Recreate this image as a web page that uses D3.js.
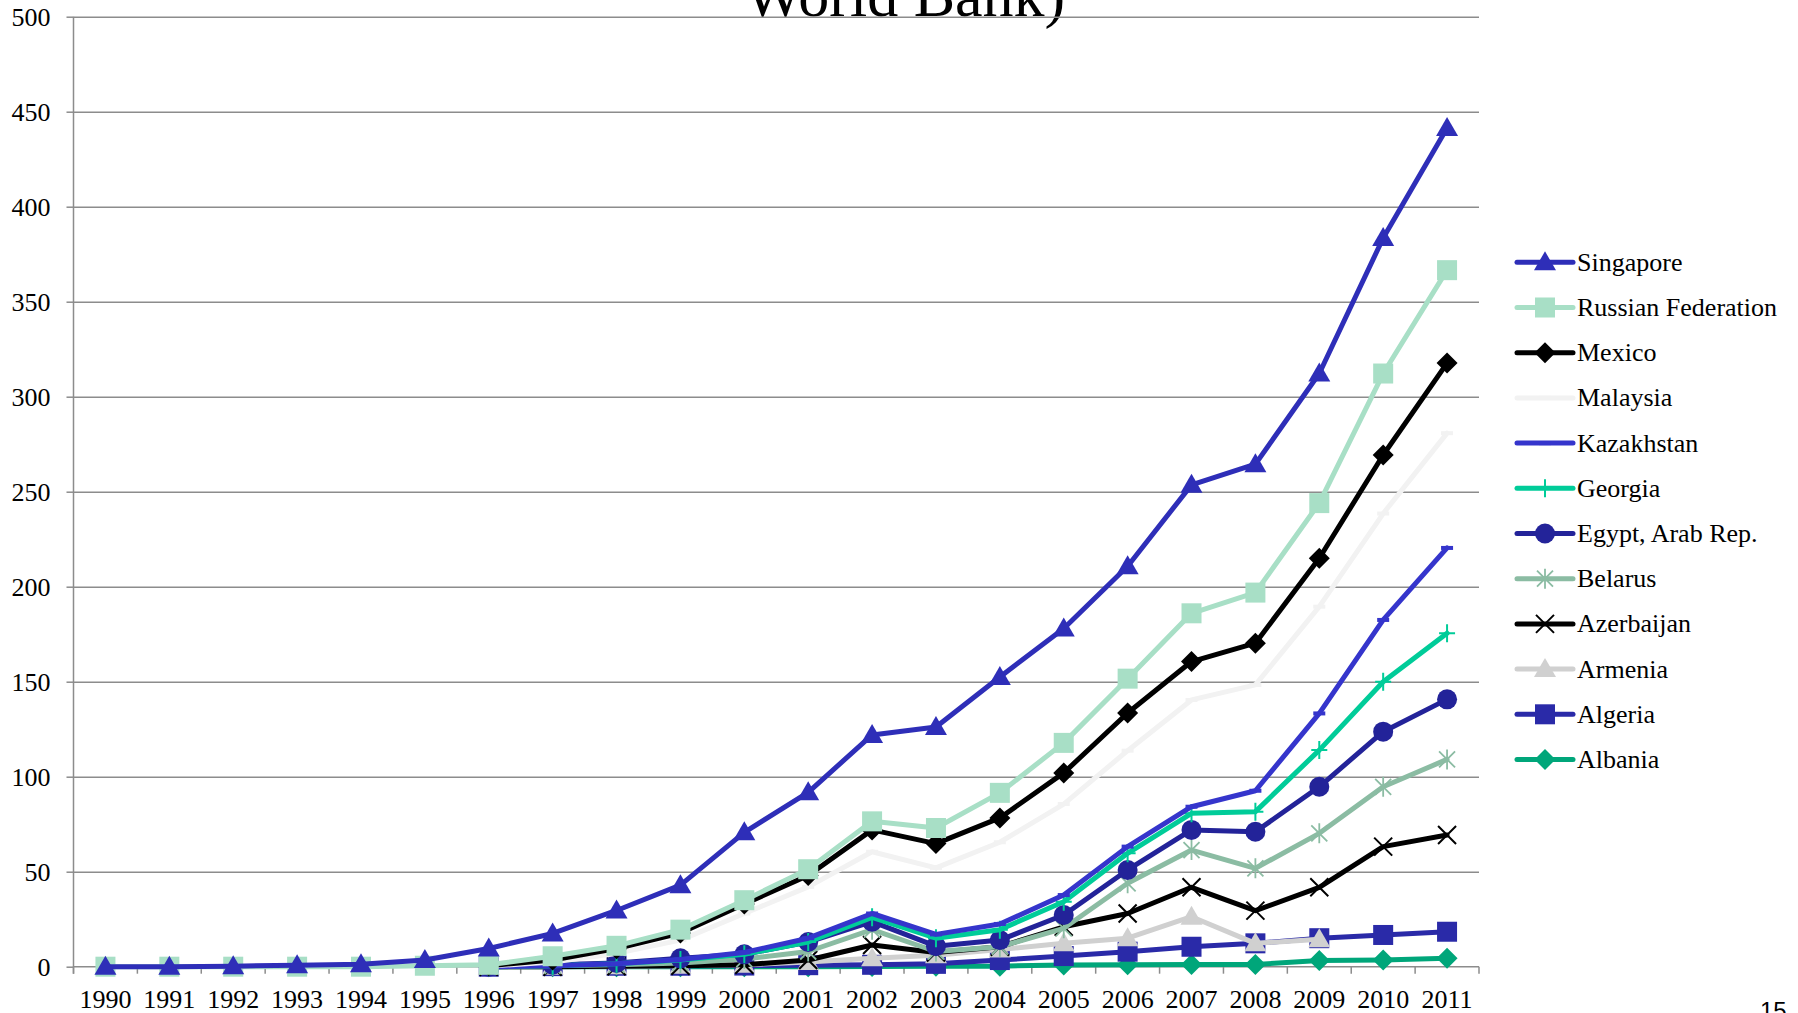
<!DOCTYPE html>
<html>
<head>
<meta charset="utf-8">
<script src="https://cdn.jsdelivr.net/npm/d3@7"></script>
<style>
  html, body { margin: 0; padding: 0; background: #fff; }
  svg { display: block; }
</style>
</head>
<body>
<svg id="chart" width="1798" height="1013"></svg>
<script>
// ---------- DATA ----------
const years = ["1990","1991","1992","1993","1994","1995","1996","1997","1998","1999","2000","2001","2002","2003","2004","2005","2006","2007","2008","2009","2010","2011"];
const yTicks = [0, 50, 100, 150, 200, 250, 300, 350, 400, 450, 500];
const titleText = "World Bank)";
const pageNumber = "15";

const singapore = [0, 0, 0.3, 0.8, 1.3, 3.5, 9.6, 17.5, 29.6, 42.9, 70.7, 91.8, 122, 126.2, 152.5, 178, 210.8, 253.6, 264.5, 312.2, 383.5, 441.4];
const russia    = [0, 0, 0, 0, 0, 0.5, 1, 5.5, 11, 19.5, 35, 51.3, 76.5, 73, 91.5, 117.8, 151.6, 186, 196.9, 244, 312.2, 366.6];
const mexico    = [null, null, null, null, null, null, 0.5, 3.5, 9.5, 17.7, 33, 48, 72, 64.8, 78.3, 102, 133.5, 160.6, 170.3, 215, 269.3, 317.7];
const malaysia  = [null, null, null, null, null, null, 0.3, 2.5, 7, 14, 28, 42, 60.5, 52, 65.5, 85.6, 113.7, 140.4, 148.3, 189.5, 238.5, 280.8];
const kazakhstan= [null, null, null, null, null, null, 0, 0.5, 1.5, 3.8, 7.5, 15, 28, 17, 22.5, 37.7, 63.2, 84.2, 92.6, 133.3, 182.5, 220.4];
const georgia   = [null, null, null, null, null, null, 0, 0.5, 1.5, 3.5, 6.5, 13, 26, 15, 19.5, 34.2, 59.7, 80.7, 81.6, 114, 150, 175.5];
const egypt     = [null, null, null, null, null, null, 0, 1, 2, 4.4, 6.5, 13, 23.7, 10.8, 14, 27.2, 50.9, 72, 71, 94.7, 123.7, 140.7];
const belarus   = [null, null, null, null, null, null, 0, 0.5, 1, 2, 4, 8, 19.5, 8, 10.5, 20.2, 43.9, 61.4, 51.8, 70.2, 94.7, 109.1];
const azerbaijan= [null, null, null, null, null, null, 0, 0, 0.2, 0.5, 1, 3.5, 11.4, 7.5, 10.5, 21, 28, 41.8, 29.5, 41.8, 63.2, 69.3];
const armenia   = [null, null, null, null, null, null, 0, 0, 0.2, 0.5, 1, 2.5, 4.5, 6, 9, 12.3, 15, 26.3, 12.3, 14.4, null, null];
const algeria   = [null, null, null, null, null, null, 0, 0.3, 0.5, 0.5, 0.6, 0.8, 1, 1.5, 3.5, 5.6, 7.9, 10.5, 12.3, 15, 16.7, 18.4];
const albania   = [null, null, null, null, null, null, 0, 0, 0, 0, 0, 0, 0.1, 0.2, 0.3, 0.9, 1, 1.1, 1.2, 3.2, 3.5, 4.4];

// legend order (top to bottom)
const seriesNames = ["Singapore","Russian Federation","Mexico","Malaysia","Kazakhstan","Georgia","Egypt, Arab Rep.","Belarus","Azerbaijan","Armenia","Algeria","Albania"];
const seriesValues = [singapore, russia, mexico, malaysia, kazakhstan, georgia, egypt, belarus, azerbaijan, armenia, algeria, albania];

// ---------- STYLES ----------
const styles = {
  "Singapore":          {color: "#2E2EB8", marker: "triangle"},
  "Russian Federation": {color: "#A8DFC6", marker: "square"},
  "Mexico":             {color: "#000000", marker: "diamond"},
  "Malaysia":           {color: "#F2F2F2", marker: "dash"},
  "Kazakhstan":         {color: "#3535CC", marker: "dash"},
  "Georgia":            {color: "#00CC99", marker: "plus"},
  "Egypt, Arab Rep.":   {color: "#232399", marker: "circle"},
  "Belarus":            {color: "#8BBCA3", marker: "star"},
  "Azerbaijan":         {color: "#000000", marker: "x"},
  "Armenia":            {color: "#D0D0D0", marker: "triangle"},
  "Algeria":            {color: "#2A2AA8", marker: "square"},
  "Albania":            {color: "#00A67A", marker: "diamond"}
};

const plotLeft = 73.5, plotRight = 1479, plotTop = 16.7, plotBottom = 966.7;
const serif = "'Liberation Serif', 'Times New Roman', serif";
const lineW = 5;

const svg = d3.select("#chart");

const x = d3.scalePoint().domain(years).range([plotLeft, plotRight]).padding(0.5);
const step = x.step();
const y = d3.scaleLinear().domain([0, 500]).range([plotBottom, plotTop]);

// Title (mostly cut off at top)
svg.append("text")
  .attr("x", 905).attr("y", 16)
  .attr("text-anchor", "middle")
  .attr("font-family", serif)
  .attr("font-size", 62)
  .attr("fill", "#000")
  .text(titleText);

// Gridlines
const grid = svg.append("g").attr("transform", `translate(${plotLeft},0)`)
  .call(d3.axisLeft(y).tickValues(yTicks.filter(v => v > 0)).tickSize(-(plotRight - plotLeft)).tickFormat(""));
grid.select(".domain").remove();
grid.selectAll("line").attr("stroke", "#8C8C8C").attr("stroke-width", 1.5);

// Y axis
const yAxis = svg.append("g").attr("transform", `translate(${plotLeft},0)`)
  .call(d3.axisLeft(y).tickValues(yTicks).tickSize(7).tickPadding(16).tickSizeOuter(0));
yAxis.select(".domain").attr("stroke", "#8C8C8C").attr("stroke-width", 1.5)
  .attr("d", `M0,${plotTop}V${plotBottom + 7}`);
yAxis.selectAll(".tick line").attr("stroke", "#8C8C8C").attr("stroke-width", 1.5);
yAxis.selectAll(".tick text").attr("font-family", serif).attr("font-size", 26).attr("fill", "#000");

// X axis baseline
svg.append("line")
  .attr("x1", plotLeft).attr("x2", plotRight)
  .attr("y1", y(0)).attr("y2", y(0))
  .attr("stroke", "#8C8C8C").attr("stroke-width", 1.5);
// X ticks at category boundaries
const boundaries = years.map(d => x(d) - step / 2).concat([x(years[years.length - 1]) + step / 2]);
svg.append("g").selectAll("line").data(boundaries).join("line")
  .attr("x1", d => d).attr("x2", d => d)
  .attr("y1", y(0)).attr("y2", y(0) + 7)
  .attr("stroke", "#8C8C8C").attr("stroke-width", 1.5);
// X labels
svg.append("g").selectAll("text").data(years).join("text")
  .attr("x", d => x(d)).attr("y", 1008)
  .attr("text-anchor", "middle")
  .attr("font-family", serif).attr("font-size", 26).attr("fill", "#000")
  .text(d => d);

// Marker drawing
function drawMarker(g, type, color) {
  switch (type) {
    case "triangle":
      g.append("path").attr("d", "M0,-11L11,8L-11,8Z").attr("fill", color);
      break;
    case "square":
      g.append("rect").attr("x", -10).attr("y", -10).attr("width", 20).attr("height", 20).attr("fill", color);
      break;
    case "diamond":
      g.append("path").attr("d", "M0,-10.5L10.5,0L0,10.5L-10.5,0Z").attr("fill", color);
      break;
    case "circle":
      g.append("circle").attr("r", 10).attr("fill", color);
      break;
    case "dash":
      g.append("rect").attr("x", -6).attr("y", -2).attr("width", 12).attr("height", 4).attr("fill", color);
      break;
    case "plus":
      g.append("path").attr("d", "M0,-9V9M-8,0H8").attr("stroke", color).attr("stroke-width", 2).attr("fill", "none");
      break;
    case "x":
      g.append("path").attr("d", "M-9,-9L9,9M-9,9L9,-9").attr("stroke", color).attr("stroke-width", 2).attr("fill", "none");
      break;
    case "star":
      g.append("path").attr("d", "M-8,-8L8,8M-8,8L8,-8M0,-10V10").attr("stroke", color).attr("stroke-width", 1.8).attr("fill", "none");
      break;
  }
}

// Series: draw in reverse legend order so Singapore ends on top
const line = d3.line()
  .defined(d => d.v !== null)
  .x(d => x(d.year))
  .y(d => y(d.v));

const seriesData = seriesNames.map((name, i) => ({
  name,
  points: years.map((yr, j) => ({year: yr, v: seriesValues[i][j]}))
}));

const plotG = svg.append("g");
seriesData.slice().reverse().forEach(s => {
  const st = styles[s.name];
  const g = plotG.append("g");
  g.append("path")
    .attr("d", line(s.points))
    .attr("fill", "none")
    .attr("stroke", st.color)
    .attr("stroke-width", lineW)
    .attr("stroke-linejoin", "round")
    .attr("stroke-linecap", "round");
  s.points.filter(p => p.v !== null).forEach(p => {
    const mg = g.append("g").attr("transform", `translate(${x(p.year)},${y(p.v)})`);
    drawMarker(mg, st.marker, st.color);
  });
});

// Legend
const legend = svg.append("g");
seriesNames.forEach((name, i) => {
  const st = styles[name];
  const cy = 262.3 + i * 45.2;
  const lg = legend.append("g");
  lg.append("line")
    .attr("x1", 1517).attr("x2", 1573).attr("y1", cy).attr("y2", cy)
    .attr("stroke", st.color).attr("stroke-width", lineW).attr("stroke-linecap", "round");
  drawMarker(lg.append("g").attr("transform", `translate(1545,${cy})`), st.marker, st.color);
  lg.append("text")
    .attr("x", 1577).attr("y", cy + 8.5)
    .attr("font-family", serif).attr("font-size", 26).attr("fill", "#000")
    .text(name);
});

// Page number
svg.append("text")
  .attr("x", 1760).attr("y", 1019)
  .attr("font-family", "'Liberation Sans', Arial, sans-serif")
  .attr("font-size", 24).attr("fill", "#000")
  .text(pageNumber);
</script>
</body>
</html>
